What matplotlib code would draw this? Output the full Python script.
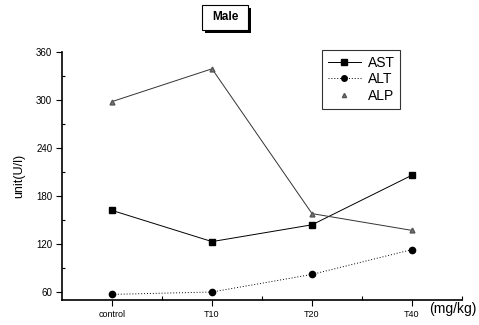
import matplotlib
matplotlib.use("Agg")
import matplotlib.pyplot as plt
from matplotlib.lines import Line2D
from matplotlib.patches import Rectangle
from matplotlib.ticker import MultipleLocator

plt.rcParams['font.family'] = ['Liberation Sans', 'DejaVu Sans']

categories = ["control", "T10", "T20", "T40"]
ast = [162, 123, 144, 206]
alt = [57, 60, 82, 113]
alp = [298, 339, 158, 137]
yticks = [60, 120, 180, 240, 300, 360]

W, H = 479, 325
fig = plt.figure(figsize=(W/100, H/100), dpi=100)
ax = fig.add_axes([62/W, 25/H, 400/W, 248/H])

x = list(range(len(categories)))
ax.plot(x, ast, color='black', lw=0.7, marker='s', ms=5, label='AST')
ax.plot(x, alt, color='black', lw=0.7, ls=(0, (1, 2)), marker='o', ms=4.5, label='ALT')
ax.plot(x, alp, color='#333333', lw=0.7, marker='^', ms=3.5, mfc='#777777', mec='#555555', label='ALP')

ax.set_xlim(-0.5, 3.5)
ax.set_ylim(50, 360)
ax.set_xticks(x)
ax.set_xticklabels(categories, fontsize=6.5)
ax.set_yticks(yticks)
ax.set_yticklabels([str(v) for v in yticks], fontsize=7)
ax.yaxis.set_minor_locator(MultipleLocator(30))
ax.set_xticks([0.5, 1.5, 2.5, 3.5], minor=True)
ax.tick_params(axis='both', which='major', direction='out', length=4, width=0.8, pad=3)
ax.tick_params(axis='x', which='minor', direction='in', length=3, width=0.8)
ax.tick_params(axis='y', which='minor', direction='in', length=2, width=0.8)
for s in ['top', 'right']:
    ax.spines[s].set_visible(False)
for s in ['left', 'bottom']:
    ax.spines[s].set_linewidth(1.2)

ax.set_ylabel('unit(U/l)', fontsize=9, labelpad=8)

handles = [
    Line2D([], [], color='black', lw=0.7, marker='s', ms=4),
    Line2D([], [], color='black', lw=0.7, ls=(0, (1, 2)), marker='o', ms=4),
    Line2D([], [], color='none', marker='^', ms=3, mfc='#777777', mec='#555555'),
]
leg = ax.legend(handles, ['AST', 'ALT', 'ALP'], loc='upper left',
                bbox_to_anchor=(260/400, 1 + 2/248), borderaxespad=0,
                fontsize=10, frameon=True,
                fancybox=False, edgecolor='black', handlelength=2.4,
                borderpad=0.4, labelspacing=0.2, handletextpad=0.5)
leg.get_frame().set_linewidth(0.8)

fig.text(429/W, 1 - 309/H, '(mg/kg)', fontsize=10, ha='left', va='center')

# title box with drop shadow
bx, by, bw, bh = 202, 5, 46, 25
fig.patches.append(Rectangle(((bx + 3)/W, 1 - (by + bh + 3)/H), bw/W, bh/H,
                             transform=fig.transFigure, fc='black', ec='black', lw=0))
fig.patches.append(Rectangle((bx/W, 1 - (by + bh)/H), bw/W, bh/H,
                             transform=fig.transFigure, fc='white', ec='black', lw=0.8))
fig.text((bx + bw/2)/W, 1 - (by + bh/2)/H, 'Male', fontsize=8.5, fontweight='bold',
         ha='center', va='center')

fig.savefig('out.png', dpi=100)
